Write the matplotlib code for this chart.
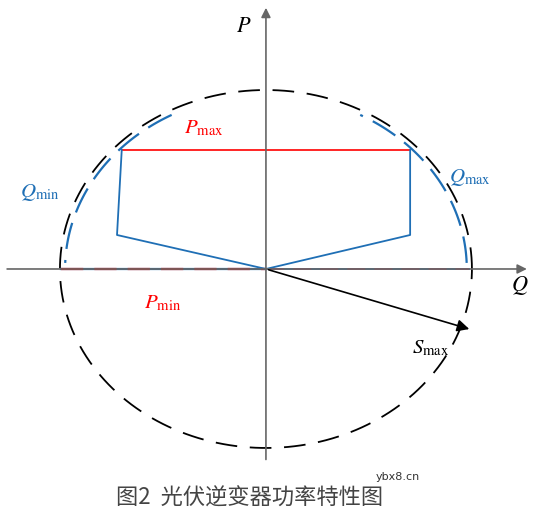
import numpy as np
import matplotlib.pyplot as plt
plt.rcParams['mathtext.fontset'] = 'stix'

# data (normalized units: S radius = 1)
pmax = 0.665
poly_x = [-0.70, -0.723, 0.0, 0.70, 0.70]
poly_y = [0.665, 0.19, 0.0, 0.19, 0.665]
smax_end = (1.0, -0.34)
qmin_arc = (118, 178)   # degrees
qmax_arc = (2, 62)

fig = plt.figure(figsize=(5.36, 5.14), dpi=100)
ax = fig.add_axes([0, 0, 1, 1])
ax.set_xlim(-1.291, 1.311)
ax.set_ylim(-1.369, 1.503)
ax.axis('off')

t = np.linspace(0, 2*np.pi, 400)
ax.plot(np.cos(t), np.sin(t), ls=(0, (12, 7)), color='black', lw=1.3)
for a0, a1 in [qmin_arc, qmax_arc]:
    tt = np.radians(np.linspace(a0, a1, 80))
    ax.plot(np.cos(tt)*0.975, np.sin(tt)*0.975, ls=(0, (12, 5)), color='#1f6fb5', lw=1.6)

ax.annotate('', xy=(1.28, 0), xytext=(-1.27, 0), arrowprops=dict(arrowstyle='-|>', color='#666666', lw=1.2, mutation_scale=14))
ax.annotate('', xy=(0, 1.475), xytext=(0, -1.08), arrowprops=dict(arrowstyle='-|>', color='#666666', lw=1.2, mutation_scale=14))

ax.plot([-0.995, 0], [0, 0], color='#1f6fb5', lw=1.6)
ax.plot([-0.995, 0], [0, 0], color='red', lw=1.6, ls=(0, (10, 5)))
ax.plot([0, 0.985], [0, 0], color='#1f6fb5', lw=1.3)
ax.plot([0, 0.985], [0, 0], color='#c04060', lw=1.3, ls=(0, (10, 5)))

ax.plot([poly_x[0], poly_x[-1]], [pmax, pmax], color='red', lw=1.2)
ax.plot(poly_x, poly_y, color='#1f6fb5', lw=1.3)

ax.annotate('', xy=smax_end, xytext=(0, 0), arrowprops=dict(arrowstyle='-|>', color='black', lw=1.2, mutation_scale=18))

ax.text(-0.107, 1.36, r'$P$', fontsize=16, ha='center', va='center')
ax.text(1.23, -0.09, r'$Q$', fontsize=16, ha='center', va='center')
ax.text(-0.30, 0.79, r'$P_{\rm max}$', fontsize=15, color='red', ha='center', va='center')
ax.text(-1.10, 0.43, r'$Q_{\rm min}$', fontsize=15, color='#1f6fb5', ha='center', va='center')
ax.text(0.99, 0.51, r'$Q_{\rm max}$', fontsize=15, color='#1f6fb5', ha='center', va='center')
ax.text(-0.50, -0.19, r'$P_{\rm min}$', fontsize=15, color='red', ha='center', va='center')
ax.text(0.80, -0.44, r'$S_{\rm max}$', fontsize=15, color='black', ha='center', va='center')
ax.text(0.64, -1.16, 'ybx8.cn', fontsize=8, color='#333333', ha='center', va='center')
ax.text(-0.08, -1.28, '图2  光伏逆变器功率特性图', fontsize=16, color='#444444', ha='center', va='center',
        family=['Noto Sans CJK SC', 'DejaVu Sans'])

fig.savefig('out.png', dpi=100)
